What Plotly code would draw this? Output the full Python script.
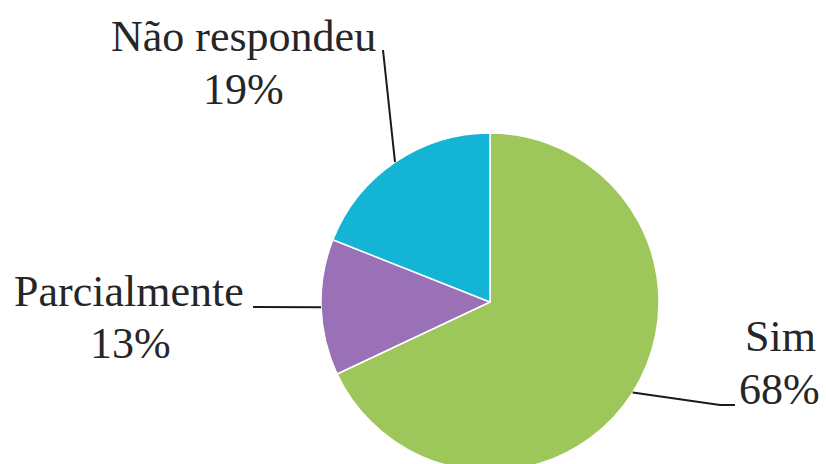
import numpy as np
import plotly.graph_objects as go

# dados
labels = ["Sim", "Parcialmente", "Não respondeu"]
values = [68, 13, 19]
colors = ["#9DC75B", "#9A71B6", "#14B5D4"]

W, H = 826, 472
cx, cy, r = 490, 302, 169  # centro e raio da pizza (px)


def px(x, y):
    return x / W, 1 - y / H


fig = go.Figure()
fig.add_trace(go.Pie(
    labels=labels, values=values, sort=False, direction="clockwise", rotation=0,
    marker=dict(colors=colors, line=dict(color="white", width=1.5)),
    textinfo="none", hoverinfo="label+percent", showlegend=False,
    domain=dict(x=[(cx - r) / W, (cx + r) / W], y=[1 - (cy + r) / H, 1 - (cy - r) / H]),
))

# ponto da borda no meio de cada fatia
total = sum(values)
cum = np.cumsum(values)
edge = []
for v, c in zip(values, cum):
    th = 2 * np.pi * (c - v / 2) / total
    edge.append((cx + r * np.sin(th), cy - r * np.cos(th)))

# posicao dos rotulos (nome, porcentagem) e linhas de chamada
name_pos = [(780, 336), (129, 291), (243, 36)]
pct_pos = [(779, 389), (130, 343), (243, 89)]
leader_end = [[(720, 405), (735, 405)], [(253, 307)], [(383, 50)]]

font = dict(family="Liberation Serif, Times New Roman, serif", size=44, color="#262626")
for lab, v, npos, ppos, pts, e in zip(labels, values, name_pos, pct_pos, leader_end, edge):
    for txt, (lx, ly) in [(lab, npos), (f"{v}%", ppos)]:
        x, y = px(lx, ly)
        fig.add_annotation(x=x, y=y, xref="paper", yref="paper", text=txt,
                           showarrow=False, font=font, xanchor="center", yanchor="middle")
    path_pts = [e] + pts
    path = "M " + " L ".join(f"{px(a, b)[0]},{px(a, b)[1]}" for a, b in path_pts)
    fig.add_shape(type="path", path=path, xref="paper", yref="paper",
                  line=dict(color="#1a1a1a", width=2))

fig.update_layout(width=W, height=H, margin=dict(l=0, r=0, t=0, b=0),
                  paper_bgcolor="white", plot_bgcolor="white")
fig.write_html("out.html", config={"displayModeBar": False},
               post_script="document.body.style.margin='0';")
